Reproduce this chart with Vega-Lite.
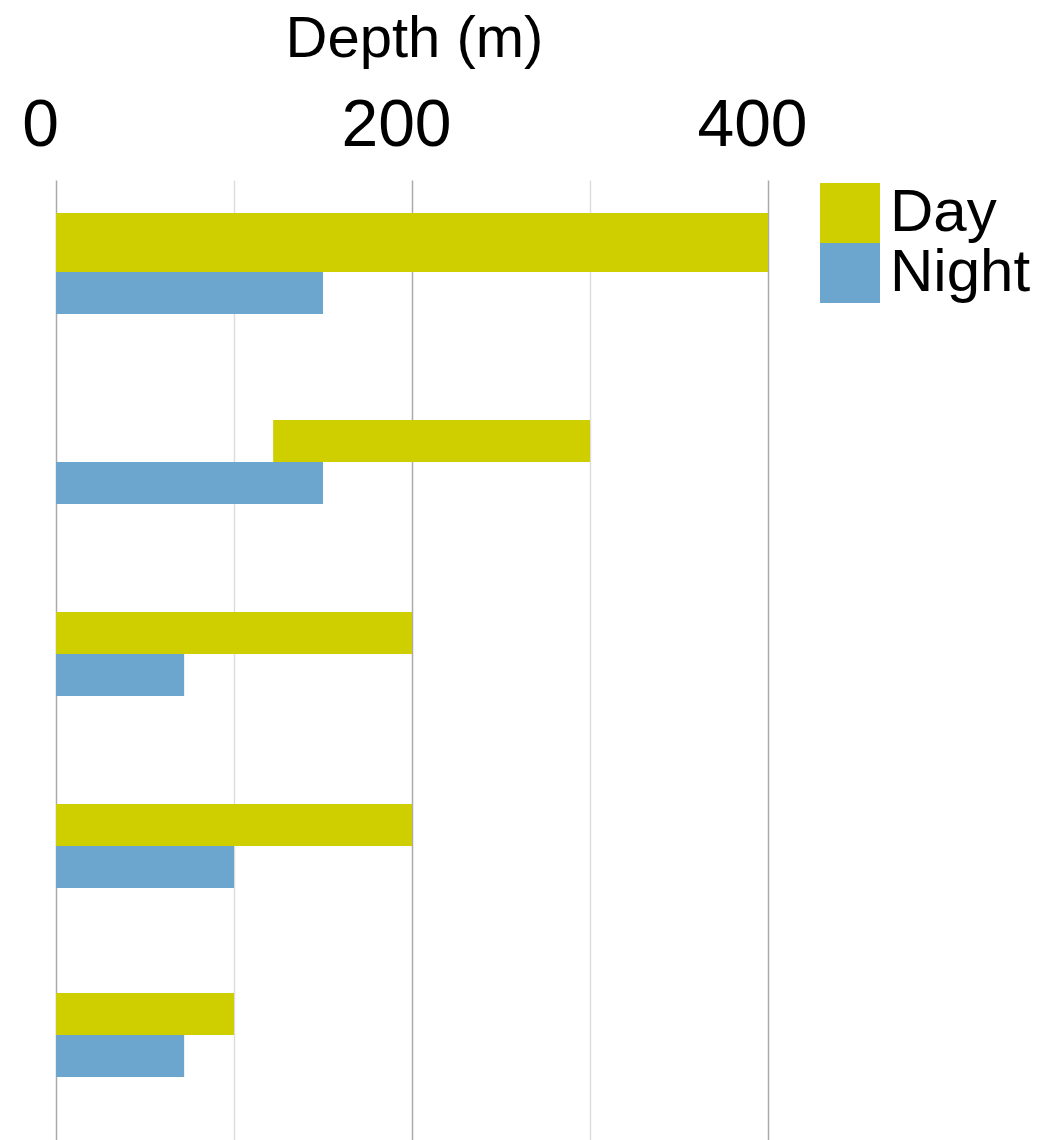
{
  "$schema": "https://vega.github.io/schema/vega-lite/v6.json",
  "autosize": "none",
  "width": 712,
  "height": 960,
  "padding": {"left": 56, "top": 180, "right": 291, "bottom": 0},
  "background": "white",
  "config": {
    "view": {"stroke": null},
    "font": "Liberation Sans"
  },
  "data": {
    "values": [
      {"group": 1, "period": "Day", "start": 0, "end": 400, "top": 0.173, "bottom": 0.482},
      {"group": 1, "period": "Night", "start": 0, "end": 150, "top": 0.482, "bottom": 0.702},
      {"group": 2, "period": "Day", "start": 122, "end": 300, "top": 1.257, "bottom": 1.476},
      {"group": 2, "period": "Night", "start": 0, "end": 150, "top": 1.476, "bottom": 1.696},
      {"group": 3, "period": "Day", "start": 0, "end": 200, "top": 2.262, "bottom": 2.482},
      {"group": 3, "period": "Night", "start": 0, "end": 72, "top": 2.482, "bottom": 2.702},
      {"group": 4, "period": "Day", "start": 0, "end": 200, "top": 3.267, "bottom": 3.487},
      {"group": 4, "period": "Night", "start": 0, "end": 100, "top": 3.487, "bottom": 3.707},
      {"group": 5, "period": "Day", "start": 0, "end": 100, "top": 4.257, "bottom": 4.476},
      {"group": 5, "period": "Night", "start": 0, "end": 72, "top": 4.476, "bottom": 4.696}
    ]
  },
  "mark": {"type": "bar", "cornerRadius": 0},
  "encoding": {
    "x": {
      "field": "start",
      "type": "quantitative",
      "scale": {"domain": [0, 400], "nice": false, "zero": true},
      "axis": {
        "orient": "top",
        "values": [0, 100, 200, 300, 400],
        "labelExpr": "datum.value % 200 === 0 ? datum.label : ''",
        "labelFontSize": 66,
        "labelColor": "black",
        "labelFont": "Liberation Sans",
        "labelPadding": 21,
        "labelOffset": -16,
        "labelFlush": false,
        "labelOverlap": false,
        "ticks": false,
        "domain": false,
        "grid": true,
        "gridColor": {"condition": {"test": "datum.value % 200 === 0", "value": "#aaaaaa"}, "value": "#dddddd"},
        "gridWidth": 1.5,
        "title": "Depth (m)",
        "titleFontSize": 58,
        "titleFontWeight": "normal",
        "titleColor": "black",
        "titleFont": "Liberation Sans",
        "titleX": 358,
        "titleY": -124,
        "titleAlign": "center",
        "titleBaseline": "alphabetic",
        "titleAnchor": null
      }
    },
    "x2": {"field": "end"},
    "y": {
      "field": "top",
      "type": "quantitative",
      "scale": {"domain": [0, 5.026], "reverse": true, "nice": false, "zero": false},
      "axis": null
    },
    "y2": {"field": "bottom"},
    "color": {
      "field": "period",
      "type": "nominal",
      "scale": {"domain": ["Day", "Night"], "range": ["#cfcf00", "#6ca5cd"]},
      "legend": {
        "title": null,
        "orient": "none",
        "legendX": 764,
        "legendY": 3,
        "padding": 0,
        "symbolType": "square",
        "symbolSize": 3600,
        "symbolStrokeWidth": 0,
        "symbolOpacity": 1,
        "rowPadding": 0,
        "labelFontSize": 60,
        "labelColor": "black",
        "labelFont": "Liberation Sans",
        "labelOffset": 10,
        "labelLimit": 400
      }
    }
  }
}
